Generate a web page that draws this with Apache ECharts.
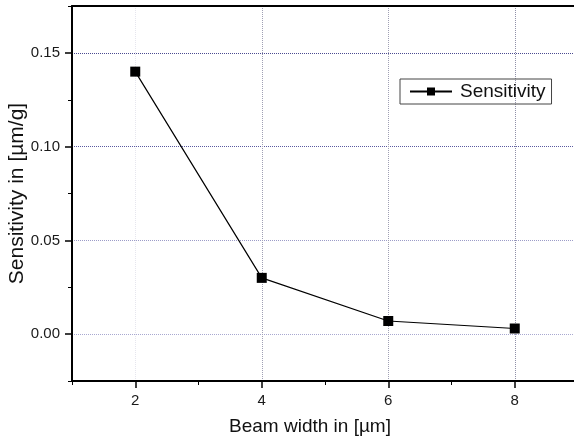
<!DOCTYPE html>
<html>
<head>
<meta charset="utf-8">
<script src="https://cdn.jsdelivr.net/npm/echarts@6/dist/echarts.min.js"></script>
<style>
  html, body { margin: 0; padding: 0; background: #fff; }
  #chart { width: 574px; height: 438px; }
</style>
</head>
<body>
<div id="chart"></div>
<script>
// data
const beamWidth = [2, 4, 6, 8];
const sensitivity = [0.14, 0.03, 0.007, 0.003];

// tick positions
const xMajorTicks = [2, 4, 6, 8];
const xMinorTicks = [1, 3, 5, 7, 9];
const yMajorTicks = [0, 0.05, 0.1, 0.15];
const yMinorTicks = [-0.025, 0.025, 0.075, 0.125, 0.175];

const font = 'Liberation Sans, Arial, sans-serif';
const chart = echarts.init(document.getElementById('chart'));

const xRange = { min: 1, max: 9 };
const yRange = { min: -0.025, max: 0.175 };

const option = {
  animation: false,
  grid: { left: 72, top: 6, right: -4, bottom: 57, containLabel: false, outerBoundsMode: 'none' },
  legend: {
    data: ['Sensitivity'],
    left: 400,
    top: 79,
    orient: 'vertical',
    itemWidth: 42,
    itemHeight: 10,
    itemGap: 4,
    padding: [3, 6, 3, 9],
    borderColor: '#444',
    borderWidth: 1,
    textStyle: { fontFamily: font, fontSize: 19, color: '#111', padding: [0, 0, 0, 3] }
  },
  xAxis: [
    {
      type: 'value', ...xRange, interval: 1,
      name: 'Beam width in [\u00b5m]',
      nameLocation: 'middle',
      nameGap: 36,
      nameMoveOverlap: false,
      nameTextStyle: { fontFamily: font, fontSize: 19, color: '#111', padding: [0, 30, 0, 0] },
      axisLine: { onZero: false, lineStyle: { color: '#000', width: 2 } },
      axisTick: { customValues: xMajorTicks, length: 7, lineStyle: { color: '#000', width: 1.5 } },
      axisLabel: { customValues: xMajorTicks, margin: 12, fontFamily: font, fontSize: 15, color: '#1a1a1a' },
      splitLine: { show: false }
    },
    {
      type: 'value', ...xRange, position: 'bottom',
      axisLine: { show: false, onZero: false },
      axisTick: { customValues: xMinorTicks, length: 4, lineStyle: { color: '#000', width: 1 } },
      axisLabel: { show: false },
      splitLine: { show: false }
    },
    {
      type: 'value', ...xRange, interval: 1, position: 'top',
      axisLine: { onZero: false, lineStyle: { color: '#000', width: 2 } },
      axisTick: { show: false },
      axisLabel: { show: false },
      splitLine: {
        show: true, showMinLine: false, showMaxLine: false,
        lineStyle: {
          type: 'dotted', width: 1,
          color: ['#e6e6ee', 'transparent', '#a0a0b4', 'transparent', '#a0a0b4', 'transparent', '#9090a8']
        }
      }
    }
  ],
  yAxis: [
    {
      type: 'value', ...yRange,
      name: 'Sensitivity in [\u00b5m/g]',
      nameLocation: 'middle',
      nameGap: 44,
      nameMoveOverlap: false,
      nameTextStyle: { fontFamily: font, fontSize: 21, color: '#111' },
      axisLine: { onZero: false, lineStyle: { color: '#000', width: 2 } },
      axisTick: { customValues: yMajorTicks, length: 7, lineStyle: { color: '#000', width: 1.5 } },
      axisLabel: {
        customValues: yMajorTicks, margin: 12, fontFamily: font, fontSize: 15, color: '#1a1a1a',
        formatter: v => v.toFixed(2)
      },
      splitLine: { show: false }
    },
    {
      type: 'value', ...yRange, position: 'left',
      axisLine: { show: false, onZero: false },
      axisTick: { customValues: yMinorTicks, length: 4, lineStyle: { color: '#000', width: 1 } },
      axisLabel: { show: false },
      splitLine: { show: false }
    },
    {
      type: 'value', ...yRange, interval: 0.025, position: 'right',
      axisLine: { show: false, onZero: false },
      axisTick: { show: false },
      axisLabel: { show: false },
      splitLine: {
        show: true, showMinLine: false, showMaxLine: false,
        lineStyle: {
          type: 'dotted', width: 1,
          color: ['#a8a8d0', 'transparent', '#9c9cc8', 'transparent', '#5a5aa0', 'transparent', '#4a4a90']
        }
      }
    }
  ],
  series: [
    {
      name: 'Sensitivity',
      type: 'line',
      data: beamWidth.map((x, i) => [x, sensitivity[i]]),
      symbol: 'rect',
      symbolSize: 10,
      itemStyle: { color: '#000' },
      lineStyle: { color: '#000', width: 1.2 },
      z: 5
    }
  ]
};

chart.setOption(option);
</script>
</body>
</html>
